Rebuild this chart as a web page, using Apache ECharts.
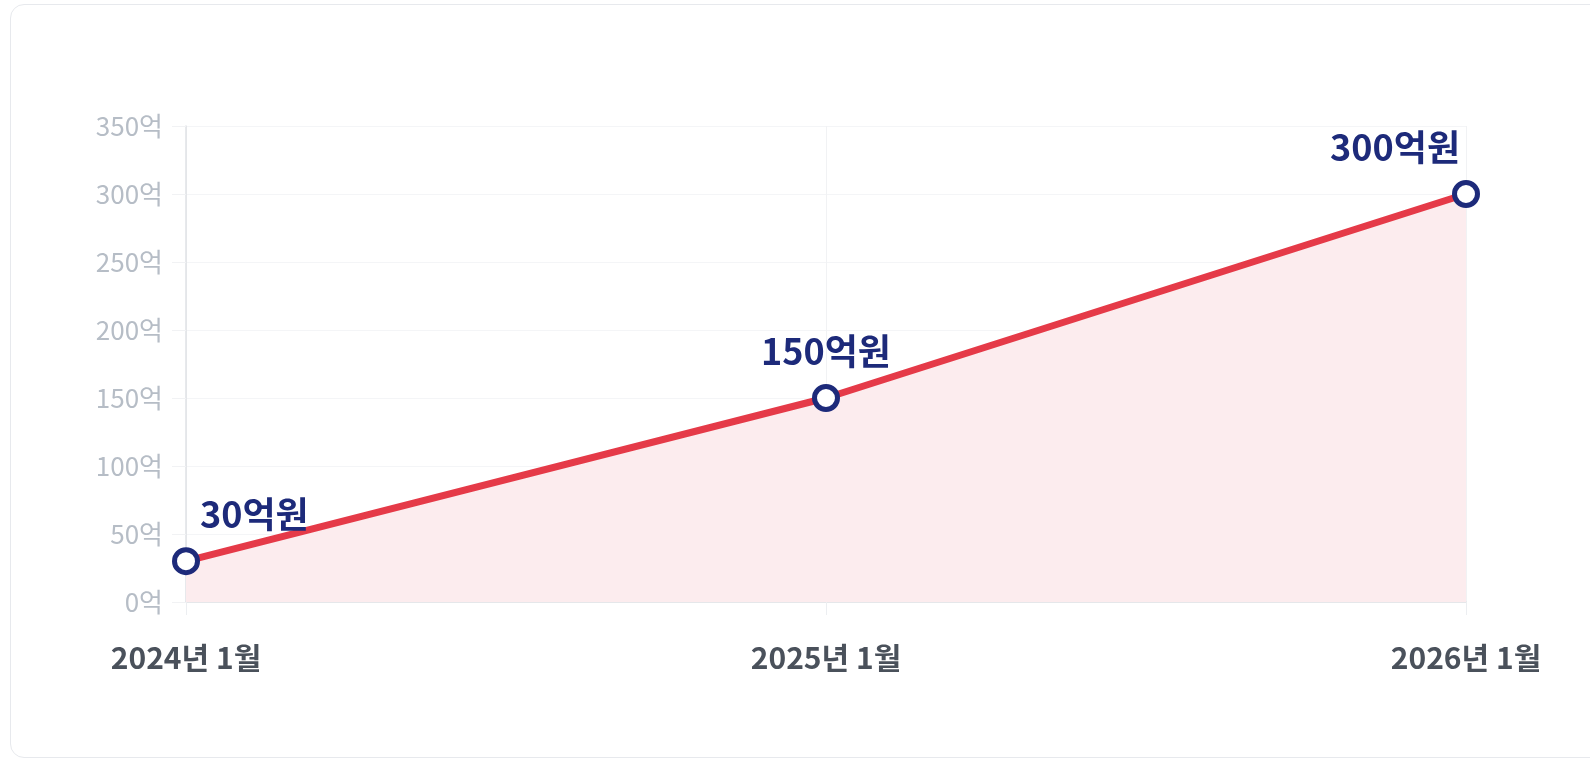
<!DOCTYPE html>
<html>
<head>
<meta charset="utf-8">
<script src="https://cdn.jsdelivr.net/npm/echarts@6/dist/echarts.min.js"></script>
<style>
  html, body { margin: 0; padding: 0; background: #fff; }
  .card {
    position: absolute; left: 10px; top: 4px; width: 1600px; height: 754px;
    border: 1.5px solid #e7e9ed; border-radius: 14px; box-sizing: border-box;
  }
  #chart { position: absolute; left: 0; top: 0; width: 1590px; height: 761px; }
</style>
</head>
<body>
<div class="card"></div>
<div id="chart"></div>
<script>
// 기간 (x축)
const months = ["2024년 1월", "2025년 1월", "2026년 1월"];
// 누적 금액 (억)
const amounts = [30, 150, 300];
// 포인트 라벨
const pointLabels = ["30억원", "150억원", "300억원"];

const FONT = '"Noto Sans CJK KR", "Noto Sans", sans-serif';
const myChart = echarts.init(document.getElementById("chart"));

// 라벨 위치는 양 끝만 안쪽으로 밀어줌
const labelAlign = ["left", "center", "right"];
const labelOffset = [[14, 0], [0, 0], [-6, 0]];

const option = {
  animation: false,
  grid: { left: 186, right: 124, top: 126, bottom: 159 },
  xAxis: {
    type: "category",
    data: months,
    boundaryGap: false,
    axisLine: { lineStyle: { color: "#dfe2e6", width: 1.5 } },
    axisTick: { show: true, length: 13, lineStyle: { color: "#eceef1" } },
    axisLabel: {
      margin: 41,
      color: "#4a515b",
      fontSize: 30,
      fontWeight: "bold",
      fontFamily: FONT
    },
    splitLine: { show: true, lineStyle: { color: "#f1f2f4" } }
  },
  yAxis: {
    type: "value",
    min: 0,
    max: 350,
    interval: 50,
    axisLine: { show: true, lineStyle: { color: "#dfe2e6", width: 1.5 } },
    axisTick: { show: true, length: 14, lineStyle: { color: "#f1f2f4" } },
    axisLabel: {
      margin: 23,
      color: "#b6bdc6",
      fontSize: 26,
      fontFamily: FONT,
      formatter: "{value}억"
    },
    splitLine: { lineStyle: { color: "#f4f5f7" } }
  },
  series: [
    {
      type: "line",
      data: amounts.map((v, i) => ({
        value: v,
        label: {
          show: true,
          formatter: pointLabels[i],
          align: labelAlign[i],
          offset: labelOffset[i]
        }
      })),
      symbol: "circle",
      symbolSize: 23,
      lineStyle: { color: "#e53a48", width: 7 },
      itemStyle: { color: "#ffffff", borderColor: "#1d2a7a", borderWidth: 5 },
      areaStyle: { color: "#fcecee", opacity: 1 },
      label: {
        position: "top",
        distance: 15,
        color: "#1d2a7a",
        fontSize: 36,
        fontWeight: "bold",
        fontFamily: FONT
      },
      z: 3
    }
  ]
};

myChart.setOption(option);
</script>
</body>
</html>
